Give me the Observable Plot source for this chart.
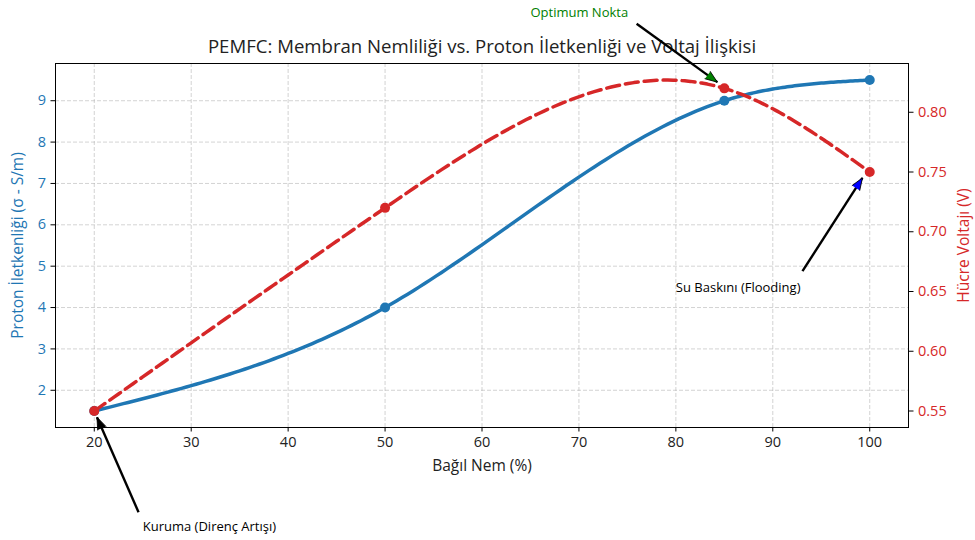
<!DOCTYPE html>
<html>
<head>
<meta charset="utf-8">
<script src="https://cdn.jsdelivr.net/npm/d3@7"></script>
<script src="https://cdn.jsdelivr.net/npm/@observablehq/plot@0.6"></script>
<style>
  html, body { margin: 0; padding: 0; background: white; }
  #chart { position: relative; width: 975px; height: 540px; }
  #chart svg { position: absolute; left: 0; top: 0; }
</style>
</head>
<body>
<div id="chart"></div>
<script>
// ---- data ----
const humidity = [20, 50, 85, 100];
const conductivity = [1.5, 4.0, 9.0, 9.5];
const voltage = [0.55, 0.72, 0.82, 0.75];

const xTicks = [20, 30, 40, 50, 60, 70, 80, 90, 100];
const leftTicks = [2, 3, 4, 5, 6, 7, 8, 9];
const rightTicks = [0.55, 0.60, 0.65, 0.70, 0.75, 0.80];

const titleText = "PEMFC: Membran Nemliliği vs. Proton İletkenliği ve Voltaj İlişkisi";
const xLabel = "Bağıl Nem (%)";
const leftLabel = "Proton İletkenliği (σ - S/m)";
const rightLabel = "Hücre Voltajı (V)";

const annotTexts = ["Optimum Nokta", "Su Baskını (Flooding)", "Kuruma (Direnç Artışı)"];
const annotTextX = [65, 80, 25];
const annotTextY = [0.88, 0.65, 0.45];
const arrowTailX = [75.95, 93.06, 24.57];
const arrowTailY = [0.8740, 0.6670, 0.4653];
const arrowTipX = [84.28, 99.25, 20.28];
const arrowTipY = [0.8252, 0.7451, 0.5448];

// ---- styles / layout ----
const W = 975, H = 540;
const M = {top: 63, right: 67, bottom: 113, left: 55};
const BLUE = "#1f77b4", RED = "#d62728";
const HEAD_FILLS = ["green", "blue", "black"];
const TEXT_FILLS = ["green", "black", "black"];
const FONT = "'Open Sans', 'DejaVu Sans', sans-serif";
const xDomain = [16, 104];
const yLeftDomain = [1.1, 9.9];
const yRightDomain = [0.5362, 0.8408];

const series1 = humidity.map((h, i) => ({h, v: conductivity[i]}));
const series2 = humidity.map((h, i) => ({h, v: voltage[i]}));

// natural cubic spline in x (the original's smoothing of the points)
function naturalSplineX(context) {
  let pts = [];
  return {
    areaStart() {}, areaEnd() {},
    lineStart() { pts = []; },
    point(x, y) { pts.push([+x, +y]); },
    lineEnd() {
      const n = pts.length;
      if (!n) return;
      const X = pts.map(p => p[0]), Y = pts.map(p => p[1]);
      context.moveTo(X[0], Y[0]);
      if (n < 3) { for (let i = 1; i < n; i++) context.lineTo(X[i], Y[i]); return; }
      const h = [];
      for (let i = 0; i < n - 1; i++) h.push(X[i + 1] - X[i]);
      // tridiagonal system for interior second derivatives
      const m = n - 2;
      const a = new Array(m), b = new Array(m), c = new Array(m), r = new Array(m);
      for (let k = 0; k < m; k++) {
        const i = k + 1;
        a[k] = h[i - 1];
        b[k] = 2 * (h[i - 1] + h[i]);
        c[k] = h[i];
        r[k] = 6 * ((Y[i + 1] - Y[i]) / h[i] - (Y[i] - Y[i - 1]) / h[i - 1]);
      }
      for (let k = 1; k < m; k++) {
        const w = a[k] / b[k - 1];
        b[k] -= w * c[k - 1];
        r[k] -= w * r[k - 1];
      }
      const Mv = new Array(n).fill(0);
      Mv[m] = r[m - 1] / b[m - 1];
      for (let k = m - 2; k >= 0; k--) Mv[k + 1] = (r[k] - c[k] * Mv[k + 2]) / b[k];
      const steps = 60;
      for (let i = 0; i < n - 1; i++) {
        const hi = h[i];
        const bi = (Y[i + 1] - Y[i]) / hi - hi * (2 * Mv[i] + Mv[i + 1]) / 6;
        const ci = Mv[i] / 2;
        const di = (Mv[i + 1] - Mv[i]) / (6 * hi);
        for (let k = 1; k <= steps; k++) {
          const t = hi * k / steps;
          context.lineTo(X[i] + t, Y[i] + bi * t + ci * t * t + di * t * t * t);
        }
      }
    }
  };
}

const common = {
  width: W, height: H,
  marginTop: M.top, marginRight: M.right, marginBottom: M.bottom, marginLeft: M.left,
  style: {fontFamily: FONT, background: "transparent", overflow: "visible"}
};

// ---- base plot (left axis) ----
const base = Plot.plot({
  ...common,
  x: {domain: xDomain},
  y: {domain: yLeftDomain},
  marks: [
    Plot.gridX(xTicks, {stroke: "#b0b0b0", strokeOpacity: 0.7, strokeDasharray: "4,2", strokeWidth: 0.8}),
    Plot.gridY(leftTicks, {stroke: "#b0b0b0", strokeOpacity: 0.7, strokeDasharray: "4,2", strokeWidth: 0.8}),
    Plot.axisX(xTicks, {label: null, tickSize: 4.5, tickPadding: 5, fontSize: 14.5, color: "#222", stroke: "black", tickFormat: d3.format("d")}),
    Plot.axisY(leftTicks, {label: null, anchor: "left", tickSize: 4.5, tickPadding: 5, fontSize: 14.5, fill: BLUE, stroke: "black", tickFormat: d3.format("d")}),
    Plot.line(series1, {x: "h", y: "v", stroke: BLUE, strokeWidth: 3.5, curve: naturalSplineX}),
    Plot.dot(series1, {x: "h", y: "v", r: 5, fill: BLUE}),
    Plot.frame({stroke: "black", strokeWidth: 1}),
    Plot.text([titleText], {frameAnchor: "top", dy: -16, text: d => d, textAnchor: "middle", fontSize: 18.6, fill: "#222", lineAnchor: "middle"}),
    Plot.text([xLabel], {frameAnchor: "bottom", dy: 39, text: d => d, textAnchor: "middle", fontSize: 15.5, fill: "#222", lineAnchor: "middle"}),
    Plot.text([leftLabel], {frameAnchor: "left", dx: -37, rotate: -90, text: d => d, textAnchor: "middle", fontSize: 15.5, fill: BLUE, lineAnchor: "middle"})
  ]
});

// ---- overlay plot (right axis) ----
const sx = Plot.scale({x: {domain: xDomain, range: [M.left, W - M.right]}});
const sy = Plot.scale({y: {domain: yRightDomain, range: [H - M.bottom, M.top]}});
const arrows = annotTexts.map((t, i) => {
  const dxp = sx.apply(arrowTipX[i]) - sx.apply(arrowTailX[i]);
  const dyp = sy.apply(arrowTipY[i]) - sy.apply(arrowTailY[i]);
  return {
    text: t, tx: annotTextX[i], ty: annotTextY[i],
    x1: arrowTailX[i], y1: arrowTailY[i], x2: arrowTipX[i], y2: arrowTipY[i],
    angle: Math.atan2(dxp, -dyp) * 180 / Math.PI, i
  };
});

const overlay = Plot.plot({
  ...common,
  x: {domain: xDomain, axis: null},
  y: {domain: yRightDomain, axis: null},
  marks: [
    Plot.axisY(rightTicks, {label: null, anchor: "right", tickSize: 4.5, tickPadding: 5, fontSize: 14.5, fill: RED, stroke: "black", tickFormat: d3.format(".2f")}),
    Plot.line(series2, {x: "h", y: "v", stroke: RED, strokeWidth: 3.5, strokeDasharray: "13,6", curve: naturalSplineX}),
    Plot.dot(series2, {x: "h", y: "v", r: 5, fill: RED}),
    Plot.link(arrows, {x1: "x1", y1: "y1", x2: "x2", y2: "y2", stroke: "black", strokeWidth: 2.4}),
    Plot.vector(arrows, {x: "x2", y: "y2", rotate: "angle", length: 12, r: 4.5, shape: "spike", anchor: "end",
      fill: d => HEAD_FILLS[d.i], stroke: "black", strokeWidth: 0.8}),
    Plot.text(arrows, {x: "tx", y: "ty", text: "text", textAnchor: "start", lineAnchor: "bottom", fontSize: 13, fill: d => TEXT_FILLS[d.i]}),
    Plot.text([rightLabel], {frameAnchor: "right", dx: 56, rotate: -90, text: d => d, textAnchor: "middle", fontSize: 15.5, fill: RED, lineAnchor: "middle"})
  ]
});

const chart = document.getElementById("chart");
chart.appendChild(base);
chart.appendChild(overlay);
</script>
</body>
</html>
